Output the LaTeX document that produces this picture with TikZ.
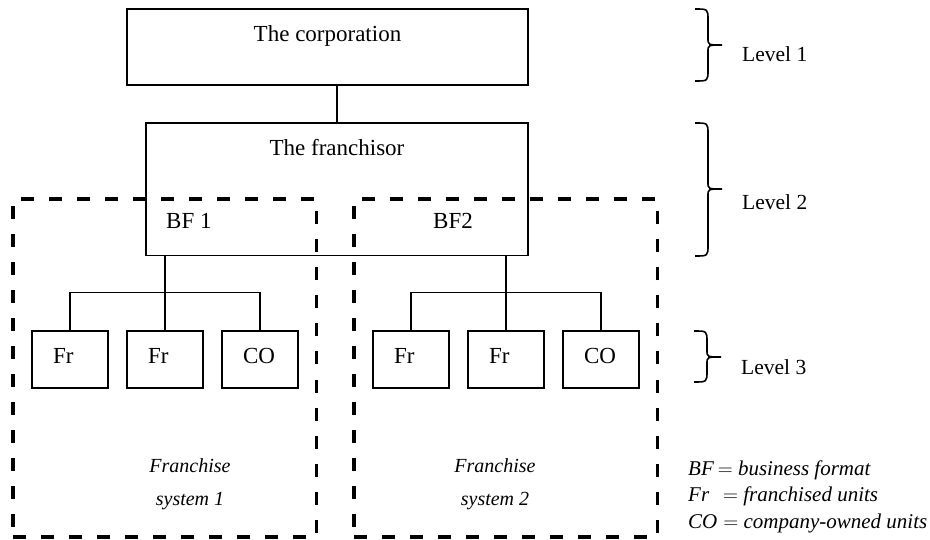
\documentclass[tikz,border=0pt]{standalone}
\usepackage{fontspec}
\setmainfont{Liberation Serif}
\usetikzlibrary{positioning}

\begin{document}
\begin{tikzpicture}[
    x=1pt,
    y=-1pt,
    box/.style={draw, line width=1.3pt, inner sep=0pt},
    boxtext/.style={font=\fontsize{23}{27}\selectfont, inner sep=0pt},
    unit/.style={
        draw,
        line width=1.3pt,
        minimum height=57pt,
        text width=34pt,
        inner xsep=21pt,
        inner ysep=0pt,
        align=left,
        text height=15pt,
        text depth=7pt,
        font=\fontsize{23}{27}\selectfont
    },
    sysbox/.style={draw, line width=3.5pt, dash pattern=on 13pt off 15pt,
        inner sep=0pt, minimum width=303.5pt, minimum height=338pt},
    systext/.style={font=\fontsize{20}{33}\selectfont\itshape, align=center, inner sep=0pt},
    link/.style={draw, line width=1.3pt},
    levelbrace/.style={line width=1.6pt},
    leveltext/.style={font=\fontsize{21.5}{26}\selectfont, anchor=base west, inner sep=0pt},
    legend/.style={font=\fontsize{21}{26}\selectfont\itshape, anchor=base west, inner sep=0pt}
]
\useasboundingbox (0,0) rectangle (930,540);

\node[sysbox] (sysa) at (164.75,368) {};
\node[sysbox] (sysb) at (505.75,368) {};

\node[box, minimum width=401pt, minimum height=76pt] (corp) at (327.5,47) {};
\node[boxtext, anchor=base] (corptxt) at ([yshift=-33pt]corp.north) {The corporation};
\node[box, minimum width=382pt, minimum height=132.5pt] (franch) at (337,189.25) {};
\node[boxtext, anchor=base] (franchtxt) at ([yshift=-33pt]franch.north) {The franchisor};
\node[boxtext, anchor=base west] (bfa) at (166,229) {BF 1};
\node[boxtext, anchor=base west] (bfb) at (433,229) {BF2};

\node[unit] (fra) at (70,359.5) {Fr};
\node[unit] (frb) at (165,359.5) {Fr};
\node[unit] (coa) at (260,359.5) {CO};
\node[unit] (frc) at (411,359.5) {Fr};
\node[unit] (frd) at (506,359.5) {Fr};
\node[unit] (cob) at (601,359.5) {CO};

\draw[link] (franch.north |- corp.south) -- (franch.north);
\draw[link] (franch.south -| frb.north) -- (frb.north);
\draw[link] (fra.north) -- ++(0,-38) -| (coa.north);
\draw[link] (franch.south -| frd.north) -- (frd.north);
\draw[link] (frc.north) -- ++(0,-38) -| (cob.north);

\node[systext] (sysatxt) at (190,484) {Franchise\\system 1};
\node[systext] (sysbtxt) at (495,484) {Franchise\\system 2};

\draw[levelbrace] (695,9) .. controls (708,9) .. (708,20) -- (708,38)
    .. controls (708,45) .. (722,45) .. controls (708,45) .. (708,52)
    -- (708,70) .. controls (708,81) .. (695,81);
\draw[levelbrace] (695,123) .. controls (708,123) .. (708,134) -- (708,182)
    .. controls (708,189) .. (722,189) .. controls (708,189) .. (708,196)
    -- (708,245) .. controls (708,256) .. (695,256);
\draw[levelbrace] (694,331) .. controls (707,331) .. (707,342) -- (707,350)
    .. controls (707,357) .. (721,357) .. controls (707,357) .. (707,364)
    -- (707,371) .. controls (707,382) .. (694,382);

\node[leveltext] (levela) at (742,62) {Level 1};
\node[leveltext] (levelb) at (742,210) {Level 2};
\node[leveltext] (levelc) at (741,374) {Level 3};

\node[legend] (lgbf) at (688,475) {BF\hspace{4pt}$=$ business format};
\node[legend] (lgfr) at (688,501.5) {Fr\hspace{14pt}$=$ franchised units};
\node[legend] (lgco) at (688,528) {CO\hspace{6pt}$=$ company-owned units};
\end{tikzpicture}
\end{document}
